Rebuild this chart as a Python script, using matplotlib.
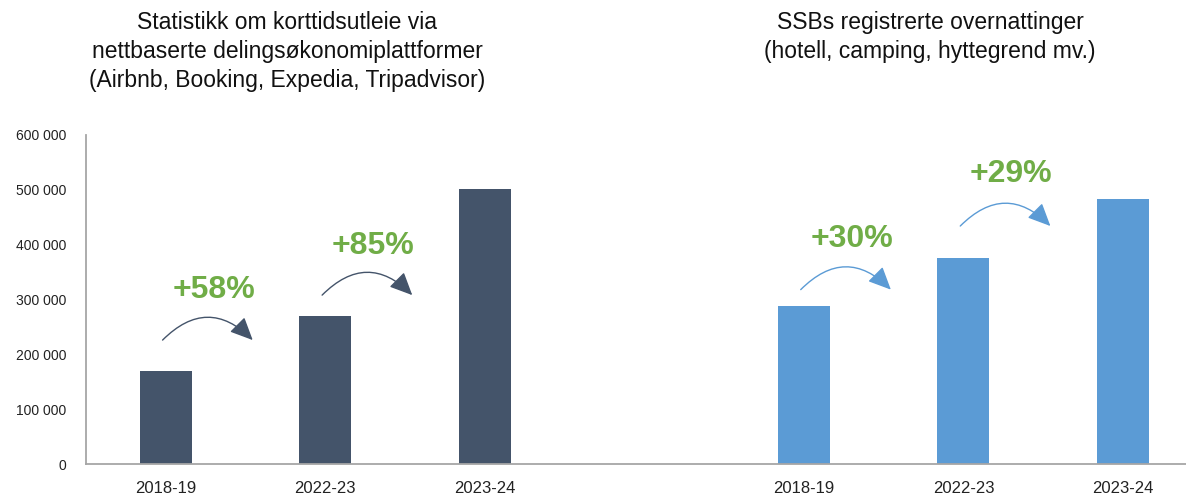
import matplotlib
matplotlib.use("Agg")
import matplotlib.pyplot as plt
from matplotlib.ticker import FuncFormatter

plt.rcParams['font.family'] = ['Liberation Sans', 'DejaVu Sans']

# ---- data ----
categories = ["2018-19", "2022-23", "2023-24"]
platform_values = [170000, 270000, 501000]     # short-term rentals via platforms
ssb_values = [289000, 376000, 484000]          # SSB registered overnight stays
platform_growth = ["+58%", "+85%"]
ssb_growth = ["+30%", "+29%"]
yticks = [0, 100000, 200000, 300000, 400000, 500000, 600000]

title_left = "Statistikk om korttidsutleie via\nnettbaserte delingsøkonomiplattformer\n(Airbnb, Booking, Expedia, Tripadvisor)"
title_right = "SSBs registrerte overnattinger\n(hotell, camping, hyttegrend mv.)"

# annotation layout (arrow heights / label heights in data units)
platform_arrow_y = [226000, 308000]
platform_label_y = [317000, 397000]
ssb_arrow_y = [318000, 434000]
ssb_label_y = [410000, 529000]

dark = "#44546A"
blue = "#5B9BD5"
green = "#70AD47"

fig = plt.figure(figsize=(11.86, 4.96), dpi=100)
ax = fig.add_axes([86/1186, 1-464/496, 1-86/1186, (464-135)/496])

x_left = list(range(len(categories)))
x_right = [i + len(categories) + 1 for i in range(len(categories))]

ax.bar(x_left, platform_values, width=0.326, color=dark)
ax.bar(x_right, ssb_values, width=0.326, color=blue)

ax.set_xlim(-0.5, 6.395)
ax.set_ylim(0, 600000)
ax.set_yticks(yticks)
ax.yaxis.set_major_formatter(FuncFormatter(lambda v, p: f"{int(v):,}".replace(",", " ")))
ax.set_xticks(x_left + x_right)
ax.set_xticklabels(categories + categories)
ax.tick_params(axis='both', length=0, colors="#222222")
ax.tick_params(axis='y', labelsize=10, pad=14)
ax.tick_params(axis='x', labelsize=12, pad=12)
for s in ['top', 'right']:
    ax.spines[s].set_visible(False)
for s in ['left', 'bottom']:
    ax.spines[s].set_color("#A6A6A6")
    ax.spines[s].set_linewidth(1.3)

def growth(xs, arrow_y, label_y, labels, color):
    for i in range(len(labels)):
        x0 = xs[i] - 0.02
        x1 = xs[i] + 0.545
        ax.annotate("", xy=(x1, arrow_y[i]), xytext=(x0, arrow_y[i]),
                    arrowprops=dict(arrowstyle="-|>,head_length=0.7,head_width=0.32",
                                    connectionstyle="arc3,rad=-0.5",
                                    color=color, lw=1.0, mutation_scale=20,
                                    shrinkA=0, shrinkB=0))
        ax.text(xs[i] + 0.3, label_y[i], labels[i], color=green, fontsize=23,
                fontweight='bold', ha='center', va='center')

growth(x_left, platform_arrow_y, platform_label_y, platform_growth, dark)
growth(x_right, ssb_arrow_y, ssb_label_y, ssb_growth, blue)

fig.text(287/1186, 1-11/496, title_left, ha='center', va='top', fontsize=16.5,
         color="#111111", linespacing=1.33)
fig.text(930/1186, 1-11/496, title_right, ha='center', va='top', fontsize=16.5,
         color="#111111", linespacing=1.33)

fig.savefig("out.png", dpi=100)
